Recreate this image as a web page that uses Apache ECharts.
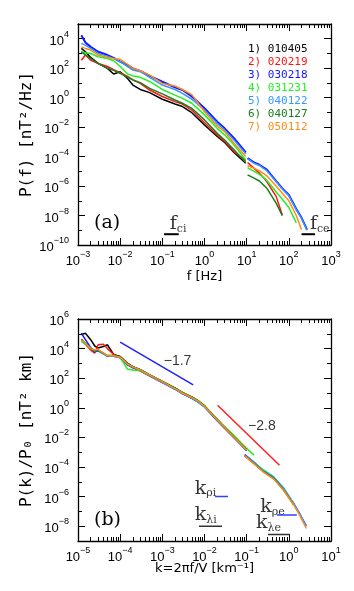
<!DOCTYPE html>
<html>
<head>
<meta charset="utf-8">
<script src="https://cdn.jsdelivr.net/npm/echarts@6/dist/echarts.min.js"></script>
<style>
html, body { margin: 0; padding: 0; background: #fff; }
#chart { width: 354px; height: 591px; }
</style>
</head>
<body>
<div id="chart"></div>
<script>
// events (legend) and their colours
const events = ['010405', '020219', '030218', '031231', '040122', '040127', '050112'];
const colors = ['#000000', '#ff1414', '#1414ff', '#22f022', '#3399ff', '#1b7d1b', '#ff8c1a'];

// panel (a): P(f) [nT^2/Hz] vs f [Hz]; '-' = gap between the two instruments at 10 Hz
const freqA = [1.2e-3, 1.5e-3, 2e-3, 3e-3, 5e-3, 7e-3, 1e-2, 1.5e-2, 2e-2, 3e-2, 5e-2, 0.1, 0.2, 0.3, 0.5, 1, 2, 3, 5, 9.5, 10, 10.5, 15, 20, 30, 50, 70, 100, 150, 200, 270];
const pA1 = [2.2e3, 1.3e3, 5.4e2, 2.1e2, 98, 40, 58, 20, 7.2, 3.6, 2.2, 0.78, 0.37, 0.25, 0.095, 0.014, 2.3e-3, 9e-4, 1.9e-4, 3.5e-5, '-', '-', '-', '-', '-', '-', '-', '-', '-', '-', '-'];
const pA2 = [3.5e2, 7.8e2, 3.5e2, 2.1e2, 1.3e2, 80, 49, 28, 16, 9.3, 3.3, 1.2, 0.54, 0.37, 0.145, 0.02, 3e-3, 1.05e-3, 2.2e-4, 5.4e-5, '-', 4e-5, 1.6e-5, 7.6e-6, 2e-6, 2e-7, 1.1e-8, '-', '-', '-', '-'];
const pA3 = [1.7e4, 5.6e3, 2.8e3, 1.3e3, 7.8e2, 5e2, 2.8e2, 1.6e2, 98, 65, 30, 12, 5, 3.3, 1.2, 0.19, 0.023, 8.3e-3, 1.8e-3, 1.9e-4, '-', 8e-5, 4e-5, 2.8e-5, 1.3e-5, 2.2e-6, 7e-7, 2.5e-7, 2.8e-8, 7e-9, 1.1e-9];
const pA4 = [1.3e3, 1.1e3, 1e3, 6e2, 4.6e2, 3.2e2, 1.3e2, 40, 30, 24, 12.6, 3.6, 1.5, 0.9, 0.42, 0.068, 8.3e-3, 3e-3, 6.3e-4, 6e-5, '-', 1.8e-5, 1e-5, 6.3e-6, 2.5e-6, 4e-7, 1.26e-7, 3.5e-8, 3.2e-9, '-', '-'];
const pA5 = [4.8e3, 3.5e3, 2.2e3, 1e3, 6.6e2, 4.5e2, 2.8e2, 1.3e2, 74, 58, 24, 7.2, 3.6, 1.95, 0.78, 0.145, 0.018, 6.5e-3, 1.35e-3, 1.55e-4, '-', 7e-5, 3.5e-5, 2.5e-5, 1.1e-5, 2e-6, 6.3e-7, 2.2e-7, 2.5e-8, 6.3e-9, 1e-9];
const pA6 = [1.3e3, 8e2, 4.6e2, 2.1e2, 98, 71, 45, 25, 16, 10.5, 4.3, 1.8, 0.7, 0.42, 0.19, 0.031, 3.8e-3, 1.35e-3, 2.9e-4, 4e-5, '-', 5.8e-6, 3.5e-6, 2.2e-6, 7.2e-7, 7e-8, 9.8e-9, '-', '-', '-', '-'];
const pA7 = [2.8e3, 2.2e3, 1.7e3, 7.8e2, 5.4e2, 4.5e2, 4e2, 1.8e2, 98, 68, 34, 9.3, 6.2, 3.6, 1.6, 0.11, 0.012, 5e-3, 8.1e-4, 1e-4, '-', 2.5e-5, 1.6e-5, 1.1e-5, 5e-6, 1e-6, 3.2e-7, 1e-7, 1e-8, 1.1e-9, '-'];

// panel (b): P(k)/P0 vs k = 2*pi*f/V [1/km]; entry 25 is the gap before the second instrument
const kB = [1.2e-5, 1.5e-5, 2e-5, 2.5e-5, 3e-5, 4e-5, 5e-5, 7e-5, 1e-4, 1.5e-4, 2e-4, 3e-4, 5e-4, 1e-3, 2e-3, 3e-3, 5e-3, 7e-3, 1e-2, 1.5e-2, 2.5e-2, 4e-2, 7e-2, 0.1, 0.15, 0.12, 0.09, 0.145, 0.25, 0.43, 0.74, 1.3, 1.8, 2.6];
const pB1 = [9e4, 1.1e5, 4e4, 1.5e4, 1.1e4, 1.4e4, 1.8e4, 4e3, 2.9e3, 1e3, 6e2, 3.8e2, 1.7e2, 60, 21, 10.5, 5.2, 2.9, 1.3, 0.36, 0.08, 0.02, 4e-3, 1.3e-3, '-', '-', '-', '-', '-', '-', '-', '-', '-', '-'];
const pB2 = [4e4, 2e4, 8e3, 5e3, 1.8e4, 2e4, 1e4, 4e3, 2.4e3, 8e2, 5e2, 3e2, 1.4e2, 50, 18, 9, 4.5, 2.6, 1.2, 0.32, 0.07, 0.018, 3.6e-3, 1.3e-3, '-', '-', 5.6e-4, 1.8e-4, 5e-5, 2e-5, 3.2e-6, 3e-7, '-', '-'];
const pB3 = [1.1e5, 4e4, 1.2e4, 6e3, 7e3, 4.5e3, 3e3, 3e3, 2.4e3, 8e2, 5.2e2, 3.4e2, 1.5e2, 52, 19, 9, 4.4, 2.5, 1.2, 0.32, 0.075, 0.019, 3.8e-3, 1.3e-3, '-', '-', 7e-4, 2.2e-4, 5.6e-5, 2e-5, 3.5e-6, 3.5e-7, 7e-8, 1e-8];
const pB4 = [3e4, 2e4, 1e4, 7e3, 8e3, 4.5e3, 3e3, 3e3, 2.5e3, 4e2, 3.6e2, 3.2e2, 1.5e2, 56, 21, 11, 5.5, 3.2, 1.4, 0.4, 0.09, 0.025, 5e-3, 1.8e-3, 6.3e-4, '-', '-', 2.2e-4, 6.3e-5, 2.2e-5, 4e-6, 3.5e-7, '-', '-'];
const pB5 = [4e4, 2.2e4, 1.2e4, 7e3, 8e3, 4.8e3, 3e3, 3.1e3, 2.5e3, 8.5e2, 5.4e2, 3.4e2, 1.5e2, 52, 18, 9, 4.5, 2.4, 1.1, 0.33, 0.075, 0.019, 3.8e-3, 1.3e-3, '-', '-', 6.3e-4, 2.2e-4, 5.6e-5, 2.2e-5, 4e-6, 3.5e-7, 7e-8, 1e-8];
const pB6 = [4.5e4, 2.2e4, 1e4, 7e3, 8e3, 5e3, 3.4e3, 3.4e3, 2.8e3, 9.5e2, 6e2, 3.8e2, 1.7e2, 60, 22, 11, 5.5, 3, 1.4, 0.38, 0.085, 0.021, 4.2e-3, 1.5e-3, '-', '-', 6e-4, 1.9e-4, 4.8e-5, 1.8e-5, 3e-6, 2.8e-7, '-', '-'];
const pB7 = [4e4, 2.2e4, 1e4, 8e3, 9e3, 5e3, 3.4e3, 3.3e3, 2.6e3, 9e2, 5.8e2, 3.6e2, 1.6e2, 58, 20, 10, 5, 2.8, 1.26, 0.35, 0.08, 0.02, 4e-3, 1.4e-3, '-', '-', 5.6e-4, 1.8e-4, 4.5e-5, 1.6e-5, 2.8e-6, 2.8e-7, 5.6e-8, 7e-9];

// power-law guide lines in (b)
const slope17 = [[1e-4, 2.7e4], [5.4e-3, 35]];
const slope28 = [[2.04e-2, 1.5], [0.6, 1.3e-4]];

// characteristic scales: short horizontal bars
const barFci = [[0.11, 5.4e-10], [0.245, 5.4e-10]];
const barFce = [[200, 5.4e-10], [417, 5.4e-10]];
const barKri = [[0.0178, 1e-6], [0.036, 1e-6]];
const barKli = [[7.4e-3, 1e-8], [2.6e-2, 1e-8]];
const barKre = [[0.52, 5.7e-8], [1.55, 5.7e-8]];
const barKle = [[0.32, 2.8e-9], [1.07, 2.8e-9]];

const pA = [pA1, pA2, pA3, pA4, pA5, pA6, pA7];
const pB = [pB1, pB2, pB3, pB4, pB5, pB6, pB7];

const INK = '#000';
const decades = (a, b) => { const out = []; for (let e = a; e <= b; e++) out.push(Math.pow(10, e)); return out; };
const minors = (a, b) => { const out = []; for (let e = a; e < b; e++) for (let m = 2; m <= 9; m++) out.push(m * Math.pow(10, e)); return out; };
const expOf = v => Math.round(Math.log10(v));
const sup = v => { const e = expOf(v); return '{b|10}{s|' + (e < 0 ? '\u2212' + (-e) : e) + '}'; };
const rich = {
    b: { fontFamily: 'Liberation Sans', fontSize: 13, lineHeight: 18, verticalAlign: 'bottom', color: INK },
    s: { fontFamily: 'Liberation Sans', fontSize: 9, lineHeight: 9, verticalAlign: 'top', color: INK }
};
const line = { color: INK, width: 1.3 };
const tick = { color: INK, width: 1 };
const xNameStyle = { fontFamily: 'DejaVu Sans', fontSize: 13, color: INK };
const yNameStyle = { fontFamily: 'DejaVu Sans Mono', fontSize: 16, color: INK };

// one box = 4 x axes + 4 y axes (labelled / minor / top / right)
function frame(g, xLo, xHi, yLo, yHi, xName, yName, xGap, yGap) {
    const base = {
        type: 'log', logBase: 10, gridIndex: g,
        axisLine: { show: false }, axisTick: { show: false }, axisLabel: { show: false },
        splitLine: { show: false }, axisPointer: { show: false }
    };
    const xb = Object.assign({}, base, { min: Math.pow(10, xLo), max: Math.pow(10, xHi) });
    const yb = Object.assign({}, base, { min: Math.pow(10, yLo), max: Math.pow(10, yHi) });
    const xMaj = decades(xLo, xHi), xMin = minors(xLo, xHi);
    const yAll = decades(yLo, yHi);
    const yEven = yAll.filter(v => expOf(v) % 2 === 0);
    const yOdd = yAll.filter(v => expOf(v) % 2 !== 0);
    const majX = { show: true, inside: true, length: 7, customValues: xMaj, lineStyle: tick };
    const minX = { show: true, inside: true, length: 4, customValues: xMin, lineStyle: tick };
    const majY = { show: true, inside: true, length: 7, customValues: yEven, lineStyle: tick };
    const minY = { show: true, inside: true, length: 4, customValues: yOdd, lineStyle: tick };
    const x = [
        Object.assign({}, xb, {
            position: 'bottom', axisLine: { show: true, onZero: false, lineStyle: line }, axisTick: majX,
            axisLabel: { show: true, customValues: xMaj, formatter: sup, rich: rich, margin: 5 },
            name: xName, nameLocation: 'middle', nameGap: xGap, nameMoveOverlap: false, nameTextStyle: xNameStyle
        }),
        Object.assign({}, xb, { position: 'bottom', axisTick: minX }),
        Object.assign({}, xb, { position: 'top', axisLine: { show: true, onZero: false, lineStyle: line }, axisTick: majX }),
        Object.assign({}, xb, { position: 'top', axisTick: minX })
    ];
    const y = [
        Object.assign({}, yb, {
            position: 'left', axisLine: { show: true, onZero: false, lineStyle: line }, axisTick: majY,
            axisLabel: { show: true, customValues: yEven, formatter: sup, rich: rich, margin: 9 },
            name: yName, nameLocation: 'middle', nameGap: yGap, nameRotate: 90, nameMoveOverlap: false, nameTextStyle: yNameStyle
        }),
        Object.assign({}, yb, { position: 'left', axisTick: minY }),
        Object.assign({}, yb, { position: 'right', axisLine: { show: true, onZero: false, lineStyle: line }, axisTick: majY }),
        Object.assign({}, yb, { position: 'right', axisTick: minY })
    ];
    return { x, y };
}

const fa = frame(0, -3, 3, -10, 5, 'f [Hz]', 'P(f) [nT\u00b2/Hz]', 25, 43);
const fb = frame(1, -5, 1, -9, 6, 'k=2\u03c0f/V [km\u207b\u00b9]', 'P(k)/P\u2080 [nT\u00b2 km]', 21, 43);

const series = [];
events.forEach((name, i) => {
    series.push({
        name, type: 'line', xAxisIndex: 0, yAxisIndex: 0, symbol: 'none', silent: true,
        lineStyle: { color: colors[i], width: i === 2 ? 2 : 1.5 }, itemStyle: { color: colors[i] },
        data: freqA.map((f, j) => [f, pA[i][j]])
    });
});
events.forEach((name, i) => {
    series.push({
        name, type: 'line', xAxisIndex: 4, yAxisIndex: 4, symbol: 'none', silent: true,
        lineStyle: { color: colors[i], width: 1.5 }, itemStyle: { color: colors[i] },
        data: kB.map((k, j) => [k, pB[i][j]])
    });
});

function seg(data, color, ax, width) {
    return {
        type: 'line', xAxisIndex: ax, yAxisIndex: ax, symbol: 'none', silent: true,
        lineStyle: { color, width: width || 1.5 }, data
    };
}
series.push(seg(slope17, '#2020ff', 4), seg(slope28, '#ff2020', 4));
series.push(seg(barFci, INK, 0, 2), seg(barFce, INK, 0, 2));
series.push(seg(barKri, '#3040ff', 4), seg(barKli, '#333', 4), seg(barKre, '#3040ff', 4), seg(barKle, '#333', 4));

const annRich = {
    k: { fontFamily: 'DejaVu Serif', fontSize: 19, lineHeight: 20, verticalAlign: 'top', color: INK },
    s: { fontFamily: 'DejaVu Serif', fontSize: 11, lineHeight: 11, verticalAlign: 'bottom', color: INK },
    t: { fontFamily: 'Liberation Sans', fontSize: 14, color: INK }
};
function notes(ax, items) {
    return {
        type: 'scatter', xAxisIndex: ax, yAxisIndex: ax, symbolSize: 0, silent: true,
        label: { show: true, position: [0, 0], align: 'left', verticalAlign: 'middle', rich: annRich },
        data: items
    };
}
series.push(notes(0, [
    { value: [0.15, 2.3e-9], label: { formatter: '{k|f}{s|ci}' } },
    { value: [316, 2.3e-9], label: { formatter: '{k|f}{s|ce}' } }
]));
series.push(notes(4, [
    { value: [5.9e-3, 3.2e-6], label: { formatter: '{k|k}{s|\u03c1i}' } },
    { value: [5.9e-3, 5.5e-8], label: { formatter: '{k|k}{s|\u03bbi}' } },
    { value: [0.21, 1.8e-7], label: { formatter: '{k|k}{s|\u03c1e}' } },
    { value: [0.166, 1.45e-8], label: { formatter: '{k|k}{s|\u03bbe}' } },
    { value: [2.3e-3, 1.4e3], label: { formatter: '{t|\u22121.7}', align: 'center' } },
    { value: [0.23, 0.058], label: { formatter: '{t|\u22122.8}', align: 'center' } }
]));

const chart = echarts.init(document.getElementById('chart'));
chart.setOption({
    animation: false,
    backgroundColor: '#fff',
    title: [
        { text: '(a)', left: 94, top: 214, padding: 0, textStyle: { fontFamily: 'DejaVu Serif', fontSize: 19, fontWeight: 'normal', color: INK } },
        { text: '(b)', left: 94, top: 511, padding: 0, textStyle: { fontFamily: 'DejaVu Serif', fontSize: 19, fontWeight: 'normal', color: INK } }
    ],
    legend: {
        orient: 'vertical', left: 243, top: 42, itemWidth: 0, itemHeight: 15, itemGap: 0, padding: 0,
        selectedMode: false, icon: 'none',
        formatter: name => (events.indexOf(name) + 1) + ') ' + name,
        textStyle: { fontFamily: 'DejaVu Sans Mono', fontSize: 11 },
        data: events.map((n, i) => ({ name: n, icon: 'none', textStyle: { color: colors[i] } }))
    },
    grid: [
        { left: 78, top: 24, width: 253, height: 221, containLabel: false, outerBoundsMode: 'none' },
        { left: 78, top: 319, width: 253, height: 222, containLabel: false, outerBoundsMode: 'none' }
    ],
    xAxis: fa.x.concat(fb.x),
    yAxis: fa.y.concat(fb.y),
    series
});
</script>
</body>
</html>
